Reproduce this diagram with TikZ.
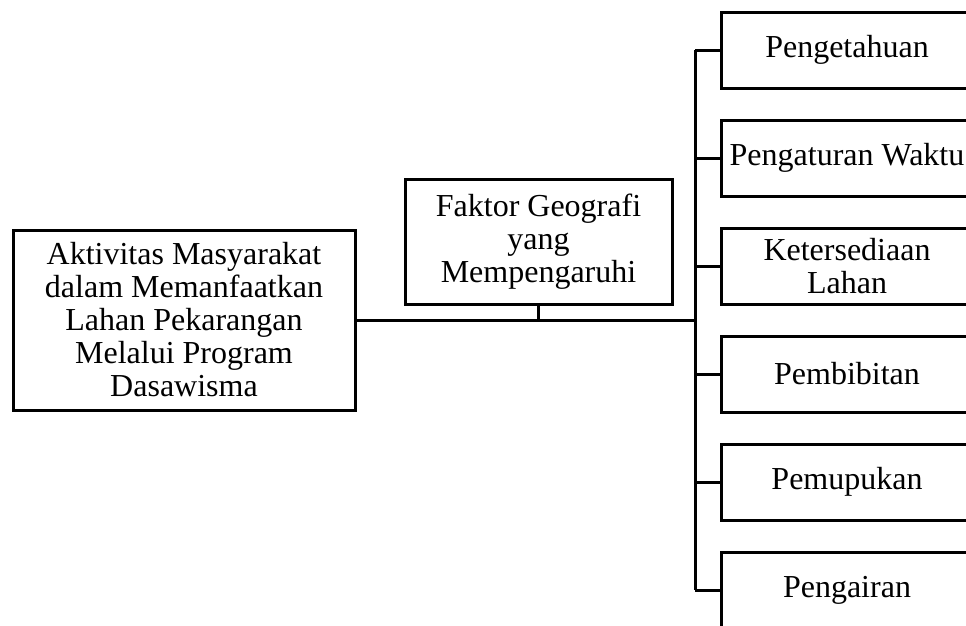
\documentclass[tikz,border=0pt]{standalone}
\usepackage{fontspec}
\setmainfont{Liberation Serif}
\usetikzlibrary{
  calc,
  positioning
}

\tikzset{
  box/.style={draw,line width=3pt,align=center,inner sep=0pt,
    font=\fontsize{32}{33}\selectfont},
  factor/.style={box,minimum width=252pt,minimum height=76pt},
  link/.style={line width=3pt}
}

\begin{document}
\begin{tikzpicture}[x=1pt,y=-1pt]
      \useasboundingbox (0, 0) rectangle (966, 625);
      \clip (0, 0) rectangle (966, 625);

      \node[box,minimum width=342pt,minimum height=180pt] (aktivitas) at (184, 320)
        {Aktivitas Masyarakat\\dalam Memanfaatkan\\Lahan Pekarangan\\Melalui Program\\Dasawisma};
      \node[box,minimum width=267pt,minimum height=125pt] (geografi) at (538.5, 241.5)
        {Faktor Geografi\\yang\\Mempengaruhi};

      \node[factor] (pengetahuan) at (847, 50) {Pengetahuan};
      \node[factor] (waktu) at (847, 158) {Pengaturan Waktu};
      \node[factor] (lahan) at (847, 266) {Ketersediaan\\Lahan};
      \node[factor] (pembibitan) at (847, 374) {Pembibitan};
      \node[factor] (pemupukan) at (847, 482) {Pemupukan};
      \node[factor] (pengairan) at (847, 590) {Pengairan};

      \coordinate (hub) at (695, 320);
      \draw[link] (aktivitas.east) -- (hub);
      \draw[link] (geografi.south) -- (geografi.south |- hub);
      \draw[link] (hub |- pengetahuan.west) -- (hub |- pengairan.west);
      \draw[link] (hub |- pengetahuan.west) -- (pengetahuan.west);
      \draw[link] (hub |- waktu.west) -- (waktu.west);
      \draw[link] (hub |- lahan.west) -- (lahan.west);
      \draw[link] (hub |- pembibitan.west) -- (pembibitan.west);
      \draw[link] (hub |- pemupukan.west) -- (pemupukan.west);
      \draw[link] (hub |- pengairan.west) -- (pengairan.west);
\end{tikzpicture}
\end{document}
